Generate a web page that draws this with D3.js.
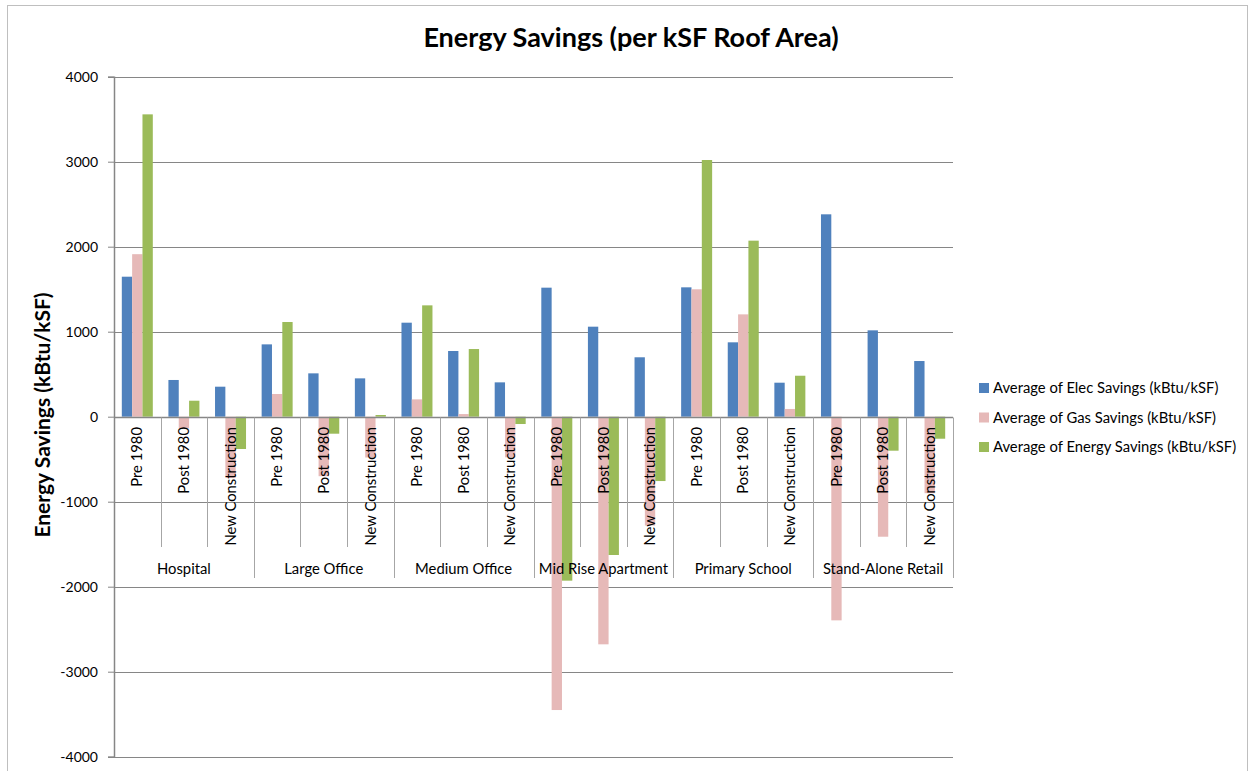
<!DOCTYPE html>
<html>
<head>
<meta charset="utf-8">
<script src="https://cdn.jsdelivr.net/npm/d3@7"></script>
<style>
  body { margin: 0; background: #fff; }
  svg { font-family: Lato, "Open Sans", sans-serif; }
</style>
</head>
<body>
<div id="chart"></div>
<script>
// données
var groups = ["Hospital", "Large Office", "Medium Office", "Mid Rise Apartment", "Primary School", "Stand-Alone Retail"];
var vintages = ["Pre 1980", "Post 1980", "New Construction"];
var seriesNames = [
  "Average of Elec Savings (kBtu/kSF)",
  "Average of Gas Savings (kBtu/kSF)",
  "Average of Energy Savings (kBtu/kSF)"
];
var elecSavings   = [1647, 432, 353,   851, 510, 451,   1106, 773, 404,   1518, 1059, 699,   1522, 875, 400,   2381, 1016, 655];
var gasSavings    = [1912, -137, -722, 267, -700, -480, 204, 31, -478,   -3451, -2678, -1280, 1499, 1204, 91,  -2396, -1412, -900];
var energySavings = [3557, 188, -380,  1114, -200, 20,  1310, 796, -86,  -1929, -1627, -757,  3020, 2071, 482,  0, -400, -259];
var yTicks = [4000, 3000, 2000, 1000, 0, -1000, -2000, -3000, -4000];
var colors = ["#4F81BD", "#E6B9B8", "#9BBB59"];

var W = 1250, H = 771;
// zone de tracé (attention: "top" est réservé par window)
var plotLeft = 114, plotRight = 953, plotTop = 76.7, plotBottom = 756.7;
var fs = 14.8;

var svg = d3.select("#chart").append("svg")
  .attr("width", W).attr("height", H);

// cadre du graphique
svg.append("rect")
  .attr("x", 7.5).attr("y", 5.5).attr("width", 1240).attr("height", 800)
  .attr("fill", "none").attr("stroke", "#bfbfbf").attr("stroke-width", 1);

// liste des barres : une entrée par catégorie
var cats = [];
groups.forEach(function(g, gi) {
  vintages.forEach(function(v, vi) {
    var i = gi * 3 + vi;
    cats.push({ key: g + "|" + v, group: g, vintage: v,
      values: [elecSavings[i], gasSavings[i], energySavings[i]] });
  });
});

var y = d3.scaleLinear().domain([-4000, 4000]).range([plotBottom, plotTop]);
var x = d3.scaleBand().domain(cats.map(function(d) { return d.key; }))
  .range([plotLeft, plotRight]).paddingInner(0.335).paddingOuter(0.1675);
var xs = d3.scaleBand().domain([0, 1, 2]).range([0, x.bandwidth()]);
var step = x.step();

// grille horizontale
svg.append("g").selectAll("line").data(yTicks).enter().append("line")
  .attr("x1", plotLeft).attr("x2", plotRight)
  .attr("y1", function(d) { return Math.round(y(d)) + 0.5; })
  .attr("y2", function(d) { return Math.round(y(d)) + 0.5; })
  .attr("stroke", "#868686").attr("stroke-width", 1);

// axe vertical
var yAxis = d3.axisLeft(y).tickValues(yTicks).tickSize(6).tickPadding(10)
  .tickFormat(function(d) { return String(d); });
var ga = svg.append("g").attr("transform", "translate(" + plotLeft + ",0)").call(yAxis);
ga.select(".domain").attr("stroke", "#868686").attr("stroke-width", 1.5);
ga.selectAll(".tick line").attr("stroke", "#868686");
ga.selectAll(".tick text").attr("font-size", 14).attr("fill", "#000")
  .attr("font-family", "Lato, sans-serif");

// barres
var gb = svg.append("g").selectAll("g").data(cats).enter().append("g")
  .attr("transform", function(d) { return "translate(" + x(d.key) + ",0)"; });
gb.selectAll("rect").data(function(d) { return d.values; }).enter().append("rect")
  .attr("x", function(d, i) { return xs(i); })
  .attr("width", xs.bandwidth())
  .attr("y", function(d) { return y(Math.max(0, d)); })
  .attr("height", function(d) { return Math.abs(y(d) - y(0)); })
  .attr("fill", function(d, i) { return colors[i]; });

// axe des catégories
var y0 = Math.round(y(0)) + 0.5;
svg.append("line").attr("x1", plotLeft).attr("x2", plotRight).attr("y1", y0).attr("y2", y0)
  .attr("stroke", "#868686").attr("stroke-width", 1.5);

var seps = d3.range(1, cats.length + 1);
svg.append("g").selectAll("line").data(seps).enter().append("line")
  .attr("x1", function(d) { return Math.round(plotLeft + d * step) + 0.5; })
  .attr("x2", function(d) { return Math.round(plotLeft + d * step) + 0.5; })
  .attr("y1", y0)
  .attr("y2", function(d) { return d % 3 === 0 ? 578 : 547; })
  .attr("stroke", "#a6a6a6").attr("stroke-width", 1);

svg.append("g").selectAll("text").data(cats).enter().append("text")
  .attr("transform", function(d) {
    return "translate(" + (x(d.key) + x.bandwidth() / 2) + ",427) rotate(-90)";
  })
  .attr("dy", "0.35em")
  .attr("text-anchor", "end")
  .attr("font-size", fs)
  .text(function(d) { return d.vintage; });

svg.append("g").selectAll("text").data(groups).enter().append("text")
  .attr("x", function(d, i) { return plotLeft + (i * 3 + 1.5) * step; })
  .attr("y", 574)
  .attr("text-anchor", "middle")
  .attr("font-size", fs)
  .text(function(d) { return d; });

// titres
svg.append("text").attr("x", 631).attr("y", 47).attr("text-anchor", "middle")
  .attr("font-size", 27).attr("font-weight", "bold")
  .text("Energy Savings (per kSF Roof Area)");

svg.append("text")
  .attr("transform", "translate(50,415) rotate(-90)")
  .attr("text-anchor", "middle")
  .attr("font-size", 21).attr("font-weight", "bold")
  .text("Energy Savings (kBtu/kSF)");

// légende
var lg = svg.append("g").selectAll("g").data(seriesNames).enter().append("g")
  .attr("transform", function(d, i) { return "translate(979," + (383 + i * 29.5) + ")"; });
lg.append("rect").attr("width", 10).attr("height", 10)
  .attr("fill", function(d, i) { return colors[i]; });
lg.append("text").attr("x", 14).attr("y", 5).attr("dy", "0.35em")
  .attr("font-size", fs).text(function(d) { return d; });
</script>
</body>
</html>
